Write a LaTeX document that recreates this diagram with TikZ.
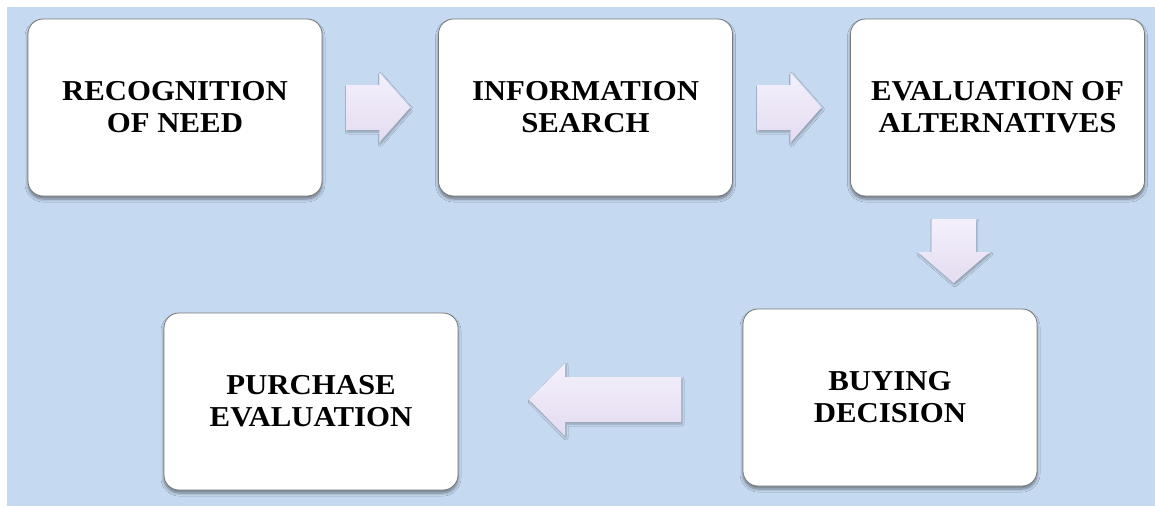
\documentclass[tikz,border=0pt]{standalone}
\usepackage{fontspec}
\usepackage{graphicx}
\setmainfont{Liberation Serif}
\usetikzlibrary{calc,shadows,shadows.blur}
\definecolor{bgblue}{RGB}{197,217,240}
\definecolor{arrtop}{RGB}{244,240,251}
\definecolor{arrbot}{RGB}{228,220,241}
\definecolor{boxline}{RGB}{120,120,120}
\newcommand\boxtext[1]{\raisebox{-3pt}[\height][\depth]{\scalebox{1.1}[1.03]{\fontsize{28}{31}\selectfont\bfseries\begin{tabular}{@{}c@{}}#1\end{tabular}}}}
\tikzset{
  stepbox/.style={draw=boxline, line width=0.8pt, fill=white, rounded corners=15pt,
    minimum width=294pt, minimum height=177pt, inner sep=0pt, align=center,
    blur shadow={shadow xshift=0pt, shadow yshift=-3pt, shadow opacity=45, shadow blur steps=6, shadow blur radius=3pt}},
  afill/.style={top color=arrtop, bottom color=arrbot, draw=none,
    blur shadow={shadow xshift=1pt, shadow yshift=-2pt, shadow opacity=30, shadow blur steps=4, shadow blur radius=2pt}}
}
\begin{document}
\begin{tikzpicture}[x=1pt,y=-1pt]
\useasboundingbox (0,0) rectangle (1155,506);
\fill[white] (0,0) rectangle (1155,506);
\fill[bgblue] (7,7) rectangle (1155,506);
\node[stepbox] (r1) at (175,107.5) {\boxtext{RECOGNITION\\OF NEED}};
\node[stepbox] (r2) at (585.5,107.5) {\boxtext{INFORMATION\\SEARCH}};
\node[stepbox] (r3) at (997.5,107.5) {\boxtext{EVALUATION OF\\ALTERNATIVES}};
\node[stepbox] (r4) at (890,397.5) {\boxtext{BUYING\\DECISION}};
\node[stepbox] (r5) at (311,401.5) {\boxtext{PURCHASE\\EVALUATION}};
% arrow anchors
\coordinate (m1) at ($($(r1.east)!0.5!(r2.west)$)+(-2,0)$);
\coordinate (m2) at ($($(r2.east)!0.5!(r3.west)$)+(-2,0)$);
\coordinate (m3) at ($(r3.south)!0.5!(r4.north)+(10,-1.5)$);
\coordinate (m4) at ($($(r5.east)!0.5!(r4.west)$)+(4.5,0)$);
\path[afill, shift={(m1)}] (-32,-22.5) -- (1,-22.5) -- (1,-35) -- (32,0) -- (1,35) -- (1,22.5) -- (-32,22.5) -- cycle;
\path[afill, shift={(m2)}] (-32,-22.5) -- (1,-22.5) -- (1,-35) -- (32,0) -- (1,35) -- (1,22.5) -- (-32,22.5) -- cycle;
\path[afill, shift={(m3)}] (-22,-32) -- (22,-32) -- (22,1) -- (36,1) -- (0,32) -- (-36,1) -- (-22,1) -- cycle;
\path[afill, shift={(m4)}] (76,-22.5) -- (-40,-22.5) -- (-40,-36.5) -- (-76,0) -- (-40,36.5) -- (-40,22.5) -- (76,22.5) -- cycle;
\end{tikzpicture}
\end{document}
